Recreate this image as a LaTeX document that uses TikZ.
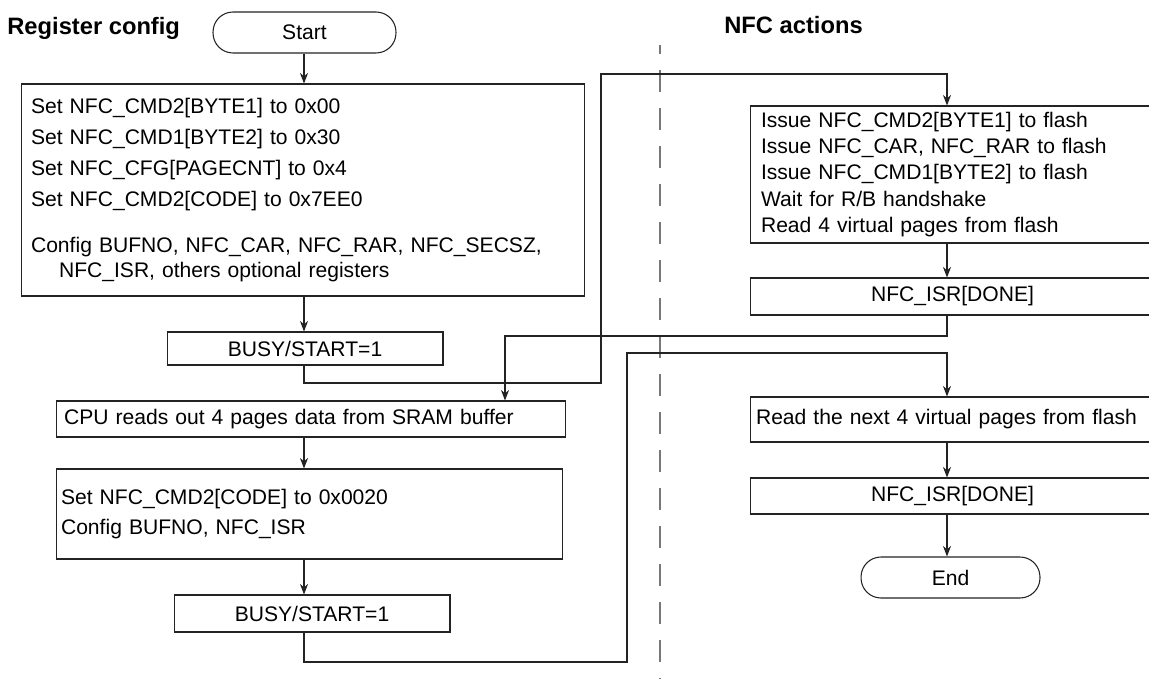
\documentclass[tikz,border=0pt]{standalone}
\usepackage{fontspec}
\setmainfont{Liberation Sans}
\usepackage{xcolor}
\definecolor{nfcline}{RGB}{35,35,35}
\definecolor{nfcgray}{RGB}{120,120,120}
\usetikzlibrary{arrows.meta,positioning,calc}

\begin{document}
\begin{tikzpicture}[
  x=0.02cm, y=-0.02cm,
  procbox/.style={draw=nfcline, line width=0.6pt, inner ysep=0pt, font=\fontsize{12pt}{14.4pt}\selectfont},
  termbox/.style={draw=nfcline, line width=0.6pt, rounded corners=0.4cm, minimum height=0.82cm, font=\fontsize{12pt}{14.4pt}\selectfont},
  heading/.style={font=\fontsize{13.5pt}{16pt}\selectfont\bfseries, inner sep=0pt},
  flow/.style={draw=nfcline, line width=0.6pt, -{Stealth[length=6pt,width=4.6pt]}}
]
  \useasboundingbox (0,0) rectangle (1149,679);
  %% column guides and bends
  \coordinate (lcol) at (304,0);
  \coordinate (rcol) at (947,0);
  \coordinate (loopA) at (601,383);
  \coordinate (loopAtop) at (601,74);
  \coordinate (backA) at (505,336);
  \coordinate (loopB) at (627,662);
  \coordinate (loopBtop) at (627,353);
  %% headings and divider
  \node[heading, anchor=base west] (regtitle) at (7,34.5) {Register config};
  \node[heading, anchor=base west] (nfctitle) at (724,33.5) {NFC actions};
  \draw[nfcgray, line width=0.6pt, dash pattern=on 0.44cm off 0.32cm, dash phase=0.26cm] (660,45) -- (660,679);
  %% Register config side
  \node[termbox, minimum width=3.66cm] (start) at (304.5,32.5) {Start};
  \node[procbox, text width=10.88cm, inner xsep=0.2cm, minimum height=4.24cm, align=left, font=\fontsize{12pt}{17.6pt}\selectfont] (regcfg) at (303,190) {Set NFC\_CMD2[BYTE1] to 0x00\\
    Set NFC\_CMD1[BYTE2] to 0x30\\
    Set NFC\_CFG[PAGECNT] to 0x4\\
    Set NFC\_CMD2[CODE] to 0x7EE0\\[8.5pt]
    Config BUFNO, NFC\_CAR, NFC\_RAR, NFC\_SECSZ,\\[-3.4pt]
    \hspace*{0.56cm}NFC\_ISR, others optional registers\par\vspace{7.4pt}};
  \node[procbox, minimum width=5.52cm, minimum height=0.66cm] (busyA) at (305,348.5) {BUSY/START=1};
  \node[procbox, text width=9.88cm, inner xsep=0.16cm, minimum height=0.72cm, align=left] (cpuread) at (311,419) {CPU reads out 4 pages data from SRAM buffer};
  \node[procbox, text width=9.94cm, inner xsep=0.1cm, minimum height=1.8cm, align=left, font=\fontsize{12pt}{17pt}\selectfont] (setcode) at (309.5,514) {Set NFC\_CMD2[CODE] to 0x0020\\
    Config BUFNO, NFC\_ISR\par\vspace{5.7pt}};
  \node[procbox, minimum width=5.52cm, minimum height=0.74cm] (busyB) at (312,613.5) {BUSY/START=1};
  %% NFC actions side
  \node[procbox, text width=7.66cm, inner xsep=0.22cm, minimum height=2.74cm, align=left, font=\fontsize{12pt}{15pt}\selectfont] (issue) at (952.5,174.5) {Issue NFC\_CMD2[BYTE1] to flash\\
    Issue NFC\_CAR, NFC\_RAR to flash\\
    Issue NFC\_CMD1[BYTE2] to flash\\
    Wait for R/B handshake\\
    Read 4 virtual pages from flash\par\vspace{4pt}};
  \node[procbox, minimum width=8.1cm, minimum height=0.74cm] (isrA) at (952.5,296.5) {NFC\_ISR[DONE]};
  \node[procbox, text width=7.86cm, inner xsep=0.12cm, minimum height=0.9cm, align=left] (readnext) at (952.5,419.5) {Read the next 4 virtual pages from flash};
  \node[procbox, minimum width=8.1cm, minimum height=0.72cm] (isrB) at (952.5,496) {NFC\_ISR[DONE]};
  \node[termbox, minimum width=3.58cm] (finish) at (950.5,577.5) {End};
  %% flow
  \draw[flow] (start.south -| lcol) -- (regcfg.north -| lcol);
  \draw[flow] (regcfg.south -| lcol) -- (busyA.north -| lcol);
  \draw[flow] (busyA.south -| lcol) |- (loopA) -- (loopAtop) -| (issue.north -| rcol);
  \draw[flow] (issue.south -| rcol) -- (isrA.north -| rcol);
  \draw[flow] (isrA.south -| rcol) |- (backA) -- (backA |- cpuread.north);
  \draw[flow] (cpuread.south -| lcol) -- (setcode.north -| lcol);
  \draw[flow] (setcode.south -| lcol) -- (busyB.north -| lcol);
  \draw[flow] (busyB.south -| lcol) |- (loopB) -- (loopBtop) -| (readnext.north -| rcol);
  \draw[flow] (readnext.south -| rcol) -- (isrB.north -| rcol);
  \draw[flow] (isrB.south -| rcol) -- (finish.north -| rcol);
\end{tikzpicture}
\end{document}
